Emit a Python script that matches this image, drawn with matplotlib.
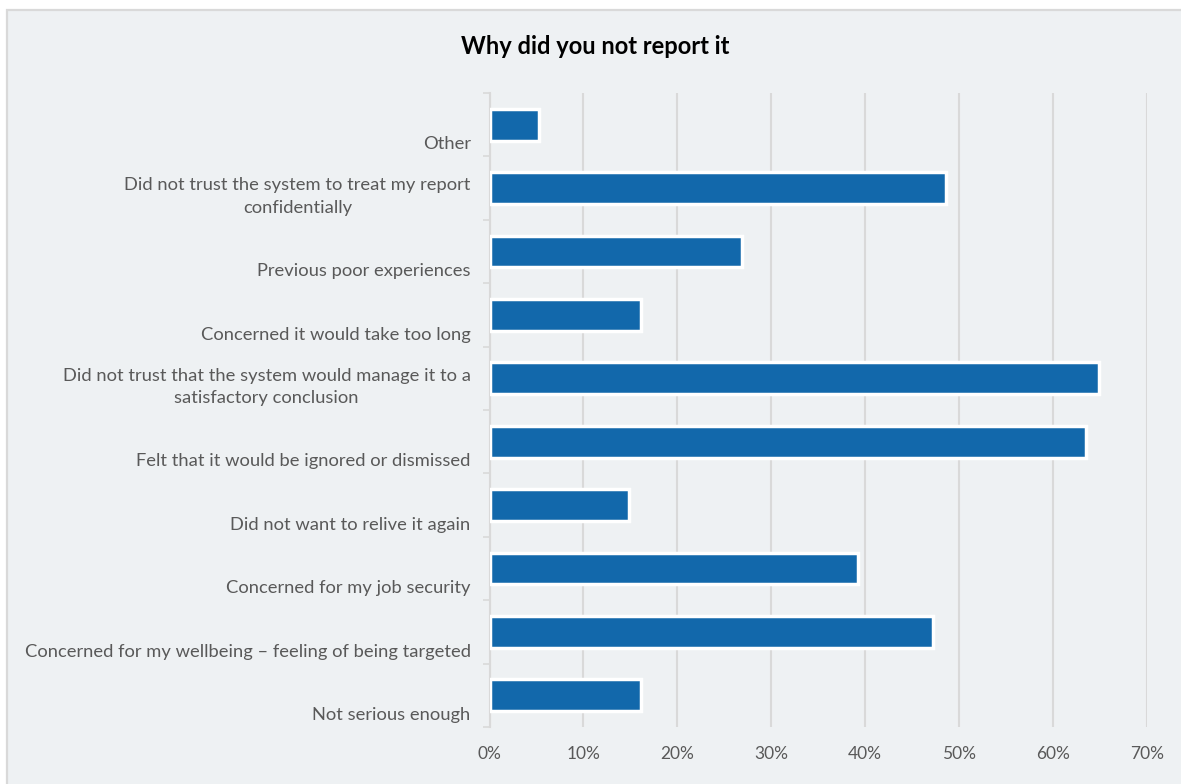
import matplotlib
matplotlib.use("Agg")
import matplotlib.pyplot as plt
from matplotlib.patches import Rectangle
from matplotlib.ticker import FuncFormatter, MultipleLocator

plt.rcParams['font.family'] = ['Lato', 'DejaVu Sans']

# Survey responses, listed top to bottom
categories = [
    "Other",
    "Did not trust the system to treat my report\nconfidentially",
    "Previous poor experiences",
    "Concerned it would take too long",
    "Did not trust that the system would manage it to a\nsatisfactory conclusion",
    "Felt that it would be ignored or dismissed",
    "Did not want to relive it again",
    "Concerned for my job security",
    "Concerned for my wellbeing \u2013 feeling of being targeted",
    "Not serious enough",
]
percentages = [5.3, 48.6, 26.9, 16.1, 64.9, 63.5, 14.8, 39.2, 47.2, 16.1]
x_ticks = [0, 10, 20, 30, 40, 50, 60, 70]
title = "Why did you not report it"

BG = "#eef1f3"
BAR = "#1268ab"
GRID = "#d9d9d9"
TEXT = "#595959"

W, H, DPI = 1181, 784, 100
fig = plt.figure(figsize=(W / DPI, H / DPI), dpi=DPI, facecolor="white")

# Panel background with a light border
panel = Rectangle((7 / W, -0.05), 1.1, 1 - 10 / H + 0.05, transform=fig.transFigure,
                  facecolor=BG, edgecolor=GRID, linewidth=1.6, zorder=-10)
fig.patches.append(panel)

ax = fig.add_axes([489.5 / W, 1 - 727 / H, (1147 - 489.5) / W, (727 - 93) / H])
ax.set_facecolor("none")
ax.set_zorder(5)

n = len(categories)
ypos = list(range(n))
ax.barh(ypos, percentages, height=0.5, color=BAR, edgecolor="white",
        linewidth=2.5, zorder=3)

ax.set_xlim(x_ticks[0], x_ticks[-1])
ax.set_ylim(n - 0.5, -0.5)

ax.xaxis.set_major_locator(MultipleLocator(10))
ax.xaxis.set_major_formatter(FuncFormatter(lambda v, p: f"{v:.0f}%"))
ax.tick_params(axis="x", length=0, pad=14, labelsize=12.5, labelcolor=TEXT)
ax.grid(axis="x", color=GRID, linewidth=1.5, zorder=1)
ax.set_axisbelow(True)

# Category boundaries carry the small y ticks
ax.set_yticks([i - 0.5 for i in range(n + 1)])
ax.set_yticklabels([])
ax.tick_params(axis="y", length=5, width=1.2, color=GRID)

for side in ("top", "right", "bottom"):
    ax.spines[side].set_visible(False)
ax.spines["left"].set_color(GRID)
ax.spines["left"].set_linewidth(1.5)

# Category labels sit near the lower edge of each band
for i, label in enumerate(categories):
    ax.annotate(label, xy=(0, i + 0.5), xycoords=("axes fraction", "data"),
                xytext=(-13.5, 5), textcoords="offset points",
                ha="right", va="baseline", multialignment="center",
                fontsize=13.2, color=TEXT, linespacing=1.5)

fig.text(595.5 / W, 1 - 47 / H, title, ha="center", va="center",
         fontsize=17, fontweight="bold", color="#000000")

fig.savefig("out.png", dpi=DPI, facecolor="white")
